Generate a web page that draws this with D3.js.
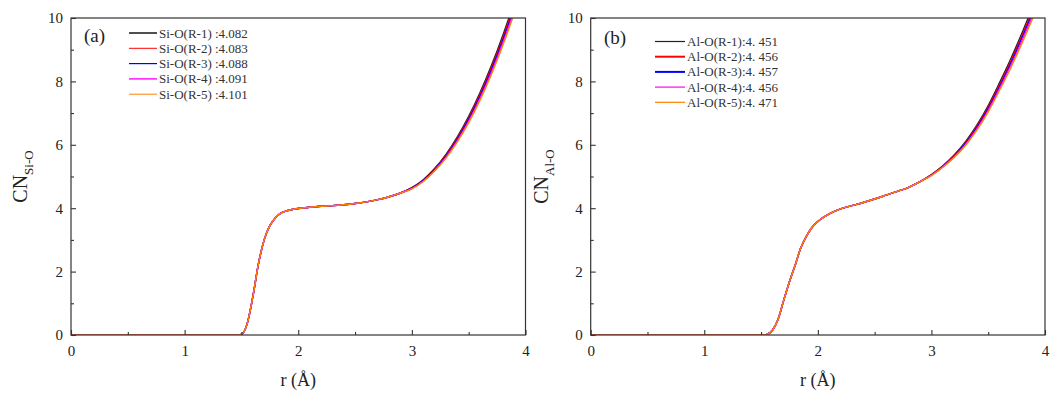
<!DOCTYPE html>
<html><head><meta charset="utf-8">
<script src="https://cdn.jsdelivr.net/npm/d3@7"></script>
<style>body{margin:0;background:#fff}svg{display:block}text{font-family:"Liberation Serif","Times New Roman",serif}</style>
</head><body><svg id="c" width="1060" height="397"></svg>
<script>
// ---------- data ----------
const rA = [0,1.45,1.5,1.55,1.6,1.65,1.7,1.75,1.8,1.85,1.9,2.0,2.1,2.2,2.3,2.4,2.5,2.6,2.7,2.8,2.9,3.0,3.1,3.2,3.3,3.4,3.5,3.6,3.7,3.8,3.9,4.0];
const siLow = [0,0,0.02,0.35,1.2,2.25,3.0,3.45,3.7,3.85,3.92,3.99,4.03,4.06,4.08,4.11,4.15,4.20,4.27,4.36,4.48];
const siO_R1 = siLow.concat([4.65,4.90,5.25,5.70,6.25,6.90,7.65,8.50,9.45,10.50,11.65]);
const siO_R2 = siLow.concat([4.64,4.88,5.23,5.67,6.21,6.85,7.59,8.43,9.37,10.41,11.55]);
const siO_R3 = siLow.concat([4.63,4.87,5.21,5.64,6.17,6.80,7.53,8.36,9.29,10.32,11.45]);
const siO_R4 = siLow.concat([4.62,4.85,5.19,5.61,6.13,6.75,7.47,8.29,9.21,10.23,11.35]);
const siO_R5 = siLow.concat([4.61,4.84,5.17,5.58,6.09,6.70,7.41,8.22,9.13,10.14,11.25]);
const siLabels = ["Si-O(R-1) :4.082","Si-O(R-2) :4.083","Si-O(R-3) :4.088","Si-O(R-4) :4.091","Si-O(R-5) :4.101"];

const rB = [0,1.5,1.55,1.6,1.65,1.7,1.75,1.8,1.85,1.9,1.95,2.0,2.1,2.2,2.3,2.4,2.5,2.6,2.7,2.8,2.9,3.0,3.1,3.2,3.3,3.4,3.5,3.6,3.7,3.8,3.9,4.0];
const alLow = [0,0,0.02,0.15,0.5,1.1,1.68,2.2,2.75,3.12,3.4,3.58,3.82,3.98,4.08,4.18,4.29,4.41,4.53,4.66,4.84];
const alO_R1 = alLow.concat([5.06,5.34,5.68,6.10,6.62,7.24,7.96,8.72,9.55,10.42,11.32]);
const alO_R2 = alLow.concat([5.05,5.32,5.66,6.07,6.58,7.19,7.90,8.65,9.47,10.33,11.22]);
const alO_R3 = alLow.concat([5.04,5.31,5.64,6.04,6.54,7.14,7.84,8.58,9.39,10.24,11.12]);
const alO_R4 = alLow.concat([5.04,5.30,5.62,6.01,6.50,7.09,7.78,8.51,9.31,10.15,11.02]);
const alO_R5 = alLow.concat([5.03,5.29,5.60,5.98,6.46,7.04,7.72,8.44,9.23,10.06,10.92]);
const alLabels = ["Al-O(R-1):4. 451","Al-O(R-2):4. 456","Al-O(R-3):4. 457","Al-O(R-4):4. 456","Al-O(R-5):4. 471"];

const colors = ["#222222","#ff0000","#0000ff","#ff00ff","#ff8000"];
const xTicks = [0,1,2,3,4];
const yTicks = [0,2,4,6,8,10];

// ---------- drawing ----------
const svg = d3.select("#c");
let clipN = 0;
function panel(o){
  const {left,right,top,bottom} = o;
  const x = d3.scaleLinear().domain([0,4]).range([left,right]);
  const y = d3.scaleLinear().domain([0,10]).range([bottom,top]);
  const g = svg.append("g");
  const id = "clip"+(clipN++);
  svg.append("clipPath").attr("id",id).append("rect")
    .attr("x",left).attr("y",top).attr("width",right-left).attr("height",bottom-top);
  const line = d3.line().x(d=>x(d[0])).y(d=>y(d[1])).curve(d3.curveMonotoneX);
  const lines = g.append("g").attr("clip-path",`url(#${id})`);
  o.series.forEach((s,i)=>{
    lines.append("path").datum(o.r.map((rv,k)=>[rv,s[k]]))
      .attr("d",line).attr("fill","none").attr("stroke",colors[i]).attr("stroke-width",1.4);
  });
  // frame
  g.append("rect").attr("x",left).attr("y",top).attr("width",right-left).attr("height",bottom-top)
    .attr("fill","none").attr("stroke","#333").attr("stroke-width",1.2);
  // axes with inward ticks
  const xa = g.append("g").attr("transform",`translate(0,${bottom})`)
    .call(d3.axisBottom(x).tickValues(d3.range(0,4.01,0.5)).tickSize(-5).tickFormat(""));
  xa.selectAll(".tick line").attr("y2",(d)=> Number.isInteger(d)? -5 : -3);
  const xl = g.append("g").attr("transform",`translate(0,${bottom})`)
    .call(d3.axisBottom(x).tickValues(xTicks).tickSize(0).tickPadding(10).tickFormat(d3.format("d")));
  const ya = g.append("g").attr("transform",`translate(${left},0)`)
    .call(d3.axisLeft(y).tickValues(d3.range(0,10.01,1)).tickSize(-5).tickFormat(""));
  ya.selectAll(".tick line").attr("x2",(d)=> d%2===0? 5 : 3);
  const yl = g.append("g").attr("transform",`translate(${left},0)`)
    .call(d3.axisLeft(y).tickValues(yTicks).tickSize(0).tickPadding(8).tickFormat(d3.format("d")));
  [xa,xl,ya,yl].forEach(a=>{a.attr("font-family",null); a.select(".domain").remove(); a.selectAll("line").attr("stroke","#333").attr("stroke-width",1.1);
    a.selectAll("text").attr("font-size",15).attr("fill","#222");});
  // axis titles
  g.append("text").attr("x",(left+right)/2).attr("y",386).attr("text-anchor","middle")
    .attr("font-size",18).attr("fill","#222").text("r (Å)");
  const yt = g.append("text").attr("transform",`translate(${o.ytx},${(top+bottom)/2}) rotate(-90)`)
    .attr("text-anchor","middle").attr("fill","#222");
  yt.append("tspan").attr("font-size",20).text("CN");
  yt.append("tspan").attr("font-size",13).attr("dy",6).text(o.sub);
  // panel label
  g.append("text").attr("x",o.lab[0]).attr("y",o.lab[1]).attr("font-size",19).attr("fill","#222").text(o.tag);
  // legend
  o.labels.forEach((t,i)=>{
    const yy = o.leg[1] + i*o.leg[3];
    g.append("line").attr("x1",o.leg[0]).attr("x2",o.leg[0]+o.leg[2]).attr("y1",yy).attr("y2",yy)
      .attr("stroke",colors[i]).attr("stroke-width",o.lw[i]);
    g.append("text").attr("x",o.leg[0]+o.leg[2]+2).attr("y",yy+4.5).attr("font-size",13).attr("fill","#333").text(t);
  });
}
panel({left:71,right:525.5,top:18,bottom:335,r:rA,series:[siO_R1,siO_R2,siO_R3,siO_R4,siO_R5],
  labels:siLabels,sub:"Si-O",tag:"(a)",lab:[84,42],leg:[129,33,28,15.3],lw:[1.6,1,1.2,1.4,1],ytx:27});
panel({left:590.7,right:1045,top:18,bottom:335,r:rB,series:[alO_R1,alO_R2,alO_R3,alO_R4,alO_R5],
  labels:alLabels,sub:"Al-O",tag:"(b)",lab:[604,44],leg:[655,41.5,30,15.2],lw:[1.2,2,2,1.2,1.2],ytx:548});
</script></body></html>
